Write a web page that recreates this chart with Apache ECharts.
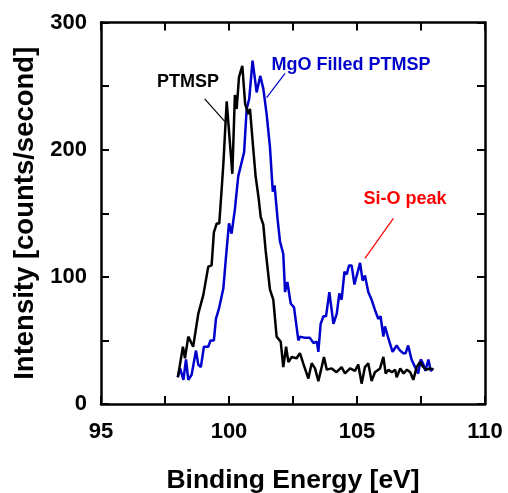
<!DOCTYPE html>
<html><head><meta charset="utf-8">
<script src="https://cdn.jsdelivr.net/npm/echarts@6/dist/echarts.min.js"></script>
<style>html,body{margin:0;padding:0;background:#fff}#c{width:508px;height:493px}</style>
</head><body><div id="c"></div>
<script>
var FONT = 'Liberation Sans, Arial, Helvetica, sans-serif';
var xTicks = [95, 100, 105, 110];
var yTicks = [0, 100, 200, 300];

var ptmspEnergy = [98.00,98.06,98.20,98.28,98.41,98.60,98.80,99.00,99.19,99.32,99.41,99.52,99.62,99.70,99.78,99.91,100.13,100.23,100.30,100.39,100.52,100.63,100.76,100.82,100.95,101.04,101.15,101.24,101.34,101.43,101.50,101.60,101.73,101.86,102.02,102.12,102.23,102.32,102.45,102.64,102.77,102.90,103.10,103.23,103.36,103.49,103.62,103.71,103.82,104.01,104.20,104.40,104.53,104.73,104.92,105.05,105.18,105.31,105.44,105.57,105.70,105.90,106.03,106.12,106.23,106.36,106.49,106.55,106.69,106.82,106.95,107.08,107.20,107.33,107.46,107.59,107.72,107.85,107.98];
var ptmspIntensity = [21,28,45,36,53,45,71,86,108,109,135,142,142,165,189,238,181,243,232,257,266,236,228,232,200,179,163,147,141,121,121,90,82,53,49,29,45,33,37,36,40,32,20,32,28,18,29,37,27,28,25,29,24,28,26,31,16,29,32,18,25,28,37,24,27,25,27,21,28,24,27,25,19,29,33,29,27,28,27];

var mgoEnergy = [98.00,98.09,98.22,98.32,98.41,98.54,98.71,98.80,98.90,99.02,99.19,99.28,99.41,99.49,99.62,99.78,99.88,100.00,100.10,100.23,100.36,100.59,100.69,100.79,100.92,101.08,101.22,101.34,101.47,101.60,101.71,101.78,101.90,101.99,102.12,102.19,102.28,102.41,102.54,102.71,102.77,102.97,103.16,103.30,103.43,103.49,103.58,103.69,103.79,103.92,104.08,104.21,104.31,104.40,104.51,104.60,104.69,104.79,104.90,104.99,105.12,105.22,105.31,105.44,105.57,105.70,105.83,105.92,106.03,106.09,106.22,106.39,106.55,106.68,106.81,106.90,107.00,107.13,107.27,107.39,107.49,107.58,107.67,107.79,107.88,107.98];
var mgoIntensity = [21,28,19,35,19,23,42,31,29,45,45,50,50,67,76,91,115,142,134,153,179,198,232,240,270,245,258,248,228,202,167,172,145,128,118,88,96,79,76,50,53,52,52,48,49,41,63,69,69,88,63,71,87,82,104,102,109,109,94,101,111,97,101,88,82,74,67,69,53,61,52,41,46,42,40,40,46,35,29,24,35,32,26,35,26,28];

// annotations: [text, textX, textY, lineX1, lineY1, lineX2, lineY2, color] in data units
var annotations = [
  ['PTMSP', 98.40, 253, 99.05, 240, 99.84, 222, '#000000'],
  ['MgO Filled PTMSP', 104.77, 266.5, 102.19, 260, 101.47, 241, '#0000cc'],
  ['Si-O peak', 106.875, 161, 106.42, 146, 105.31, 114.5, '#ff0000']
];

function zip(a, b) { return a.map(function (v, i) { return [v, b[i]]; }); }
function xLabel(v) { return xTicks.indexOf(v) >= 0 ? String(v) : ''; }
function yLabel(v) { return yTicks.indexOf(v) >= 0 ? String(v) : ''; }

var chart = echarts.init(document.getElementById('c'), null, {renderer: 'canvas'});
var axisLine = {show: true, onZero: false, lineStyle: {color: '#000', width: 2.5}};
var axisTick = {show: true, inside: true, length: 8, lineStyle: {color: '#000', width: 2}};
var option = {
  animation: false,
  backgroundColor: '#fff',
  grid: {left: 101, right: 23, top: 22.5, bottom: 89, containLabel: false, outerBoundsMode: 'none'},
  xAxis: [{
    type: 'value', min: 95, max: 110, interval: 2.5, position: 'bottom',
    axisLine: axisLine, axisTick: axisTick, splitLine: {show: false},
    axisLabel: {formatter: xLabel, color: '#000', fontSize: 22, fontWeight: 'bold', fontFamily: FONT, margin: 17, showMinLabel: true, showMaxLabel: true},
    name: 'Binding Energy [eV]', nameLocation: 'middle', nameGap: 63,
    nameTextStyle: {color: '#000', fontSize: 26.5, fontWeight: 'bold', fontFamily: FONT}
  }, {
    type: 'value', min: 95, max: 110, interval: 2.5, position: 'top',
    axisLine: axisLine, axisTick: axisTick, splitLine: {show: false}, axisLabel: {show: false}
  }],
  yAxis: [{
    type: 'value', min: 0, max: 300, interval: 50, position: 'left',
    axisLine: axisLine, axisTick: axisTick, splitLine: {show: false},
    axisLabel: {formatter: yLabel, color: '#000', fontSize: 22, fontWeight: 'bold', fontFamily: FONT, margin: 14, showMinLabel: true, showMaxLabel: true},
    name: 'Intensity [counts/second]', nameLocation: 'middle', nameGap: 62,
    nameTextStyle: {color: '#000', fontSize: 27.5, fontWeight: 'bold', fontFamily: FONT}
  }, {
    type: 'value', min: 0, max: 300, interval: 50, position: 'right',
    axisLine: axisLine, axisTick: axisTick, splitLine: {show: false}, axisLabel: {show: false}
  }],
  series: [{
    name: 'PTMSP', type: 'line', data: zip(ptmspEnergy, ptmspIntensity),
    showSymbol: false, symbol: 'none', lineStyle: {color: '#000', width: 2.5}, z: 3
  }, {
    name: 'MgO Filled PTMSP', type: 'line', data: zip(mgoEnergy, mgoIntensity),
    showSymbol: false, symbol: 'none', lineStyle: {color: '#0000cc', width: 2.5}, z: 2
  }]
};
chart.setOption(option);

var g = [];
annotations.forEach(function (a) {
  var t = chart.convertToPixel({gridIndex: 0}, [a[1], a[2]]);
  var p1 = chart.convertToPixel({gridIndex: 0}, [a[3], a[4]]);
  var p2 = chart.convertToPixel({gridIndex: 0}, [a[5], a[6]]);
  g.push({type: 'line', shape: {x1: p1[0], y1: p1[1], x2: p2[0], y2: p2[1]}, style: {stroke: a[7], lineWidth: 1.2}, z: 10});
  g.push({type: 'text', x: t[0], y: t[1], style: {text: a[0], fill: a[7], font: 'bold 18px ' + FONT, textAlign: 'center', textVerticalAlign: 'middle'}, z: 10});
});
chart.setOption({graphic: g});
</script></body></html>
